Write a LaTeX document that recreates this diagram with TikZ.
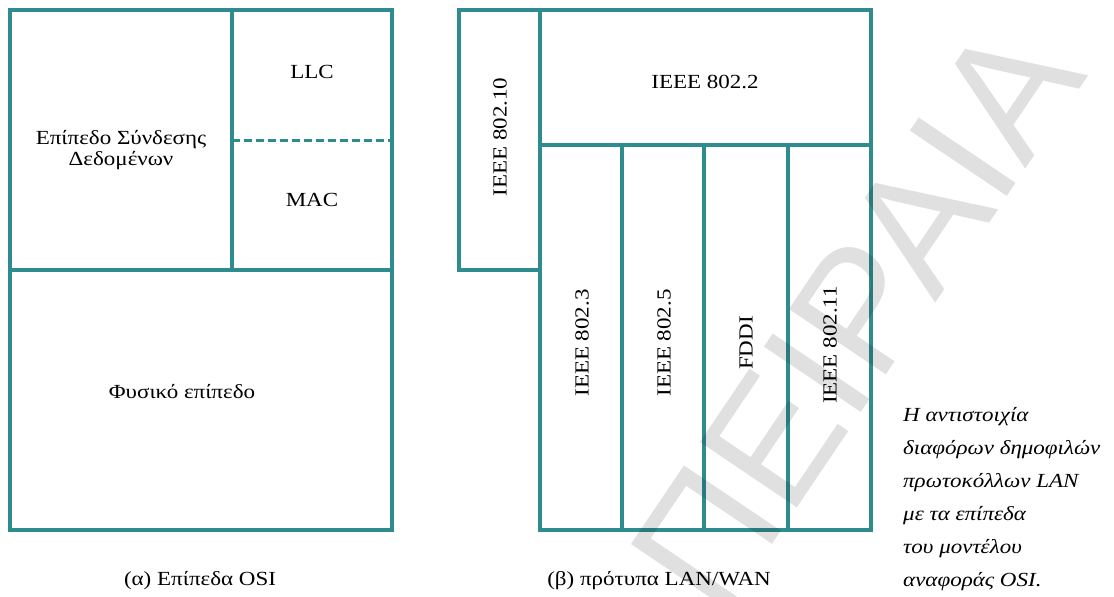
\documentclass[tikz,border=0pt]{standalone}
\usepackage{fontspec}
\setmainfont[FakeStretch=1.15]{Liberation Serif}
\newfontfamily\wmfont{Liberation Sans}
\usepackage{tikz}
\definecolor{ositeal}{RGB}{46,140,143}

\begin{document}
\begin{tikzpicture}[x=1pt,y=-1pt,
  layer/.style={draw=ositeal,line width=3.6pt},
  lbl/.style={font=\fontsize{20}{21}\selectfont,align=center,inner sep=0pt},
  vlbl/.style={lbl,rotate=90},
  subcap/.style={font=\fontsize{20}{24}\selectfont,inner sep=0pt},
  note/.style={font=\fontsize{20}{33}\selectfont\itshape,align=left,anchor=north west,inner sep=0pt},
  wmark/.style={font=\wmfont\fontsize{170}{170}\selectfont,text=black,text opacity=0.12,rotate=56,inner sep=0pt}]
  \useasboundingbox (0,0) rectangle (1114,597);
  % (a) OSI layers
  \draw[layer] (10,10) rectangle (392,530);
  \draw[layer] (10,270) -- (392,270);
  \draw[layer] (232,10) -- (232,270);
  \draw[layer,line width=3pt,dash pattern=on 8pt off 4pt] (232,140) -- (392,140);
  \node[lbl] (dll) at (121,150) {Επίπεδο Σύνδεσης\\Δεδομένων};
  \node[lbl] (llc) at (312,72) {LLC};
  \node[lbl] (mac) at (312,200) {MAC};
  \node[lbl] (phy) at (182,392) {Φυσικό επίπεδο};
  \node[subcap] (capa) at (200,581) {(α) Επίπεδα OSI};
  % (b) LAN/WAN standards
  \draw[layer] (459,10) rectangle (540,270);
  \draw[layer] (540,10) rectangle (871,145);
  \draw[layer] (540,145) rectangle (622,530);
  \draw[layer] (622,145) rectangle (704,530);
  \draw[layer] (704,145) rectangle (788,530);
  \draw[layer] (788,145) rectangle (871,530);
  \node[vlbl] (sec) at (500,137) {IEEE 802.10};
  \node[lbl] (ieee2) at (705,82) {IEEE 802.2};
  \node[vlbl] (ieee3) at (582,343) {IEEE 802.3};
  \node[vlbl] (ieee5) at (664,343) {IEEE 802.5};
  \node[vlbl] (fddi) at (746,343) {FDDI};
  \node[vlbl] (ieee11) at (830,345) {IEEE 802.11};
  \node[subcap] (capb) at (659,581) {(β) πρότυπα LAN/WAN};
  % side note
  \node[note] (txt) at (903,407) {Η αντιστοιχία\\διαφόρων δημοφιλών\\πρωτοκόλλων LAN\\με τα επίπεδα\\του μοντέλου\\αναφοράς OSI.};
  % watermark
  \node[wmark] (wm) at (856,316) {ΠΕΙΡΑΙΑ};
\end{tikzpicture}
\end{document}
